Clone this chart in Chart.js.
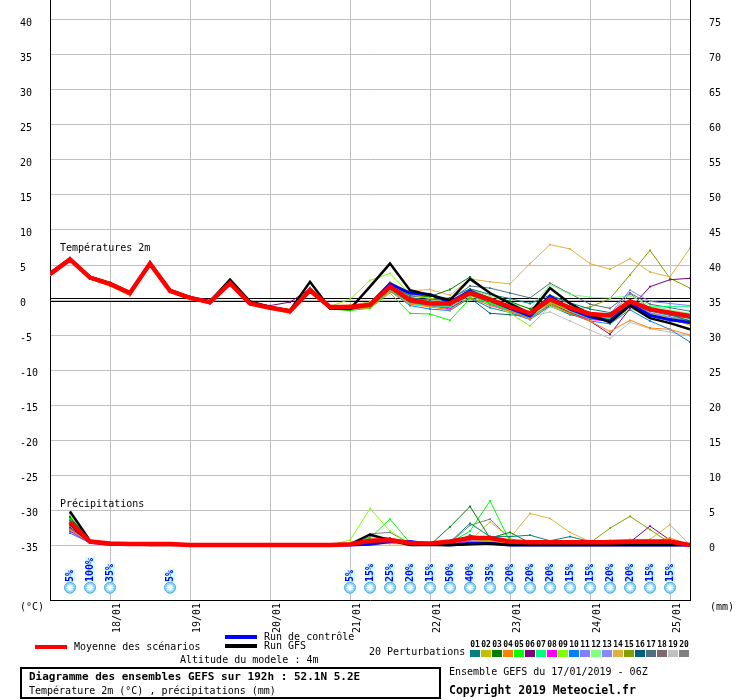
<!DOCTYPE html>
<html>
<head>
<meta charset="utf-8">
<title>Diagramme des ensembles GEFS - 52.1N 5.2E</title>
<script src="https://cdn.jsdelivr.net/npm/chart.js@4.4.1/dist/chart.umd.min.js"></script>
<style>
    html, body { margin: 0; padding: 0; background: #fff; }
    #gefs { display: block; }
</style>
</head>
<body>
<canvas id="gefs" width="740" height="700"></canvas>
<script>
const MONO = "'DejaVu Sans Mono', 'Liberation Mono', monospace";

// run du 17/01/2019 06Z, echeances toutes les 6h
const leadHours = [0, 6, 12, 18, 24, 30, 36, 42, 48, 54, 60, 66, 72, 78, 84, 90, 96,
    102, 108, 114, 120, 126, 132, 138, 144, 150, 156, 162, 168, 174, 180, 186, 192];

// 00Z de chaque jour
const dayTicks = [18, 42, 66, 90, 114, 138, 162, 186];
const dayLabels = ['18/01', '19/01', '20/01', '21/01', '22/01', '23/01', '24/01', '25/01'];

const tempTicks = [-35, -30, -25, -20, -15, -10, -5, 0, 5, 10, 15, 20, 25, 30, 35, 40];
const precTicks = [0, 5, 10, 15, 20, 25, 30, 35, 40, 45, 50, 55, 60, 65, 70, 75];

// temperature 2m (degC)
const tempMean = [3.7, 5.8, 3.2, 2.3, 1.0, 5.2, 1.3, 0.3, -0.3, 2.4, -0.5, -1.1, -1.6, 1.4, -1.0, -1.0, -0.7,
    1.9, 0.0, -0.5, -0.5, 1.0, 0.1, -1.0, -1.9, 0.1, -1.1, -2.0, -2.2, -0.2, -1.3, -1.8, -2.3];
const tempControl = [3.7, 5.8, 3.2, 2.3, 1.0, 5.2, 1.3, 0.3, -0.3, 2.4, -0.4, -1.1, -1.6, 1.5, -1.1, -1.2, -0.6,
    2.3, 1.0, 0.8, -0.3, 1.3, 0.0, -1.2, -2.3, 0.5, -1.3, -2.4, -3.0, -0.5, -2.2, -2.8, -3.2];
const tempGFS = [3.8, 5.9, 3.3, 2.4, 1.1, 5.3, 1.4, 0.4, -0.2, 2.9, -0.2, -1.0, -1.5, 2.6, -1.2, -1.3, 1.9,
    5.2, 1.4, 0.7, 0.0, 3.0, 1.0, -0.5, -1.9, 1.7, -0.5, -2.1, -3.2, -0.8, -2.6, -3.3, -4.2];

const tempPert = [
    [3.9, 5.9, 3.1, 2.2, 1.1, 5.0, 1.2, 0.2, -0.2, 2.3, -0.6, -1.2, -1.7, 1.2, -1.1, -1.1, -0.9, 1.6, 0.3, 0.0, 0.3, 1.6, 0.8, 0.2, -0.5, 0.7, -0.4, -1.3, -1.8, -0.4, -1.6, -2.2, -2.6],
    [3.6, 5.7, 3.3, 2.4, 1.2, 5.1, 1.4, 0.4, -0.3, 2.2, -0.4, -1.0, -1.5, 1.5, -1.0, -0.9, -0.3, 2.6, 0.8, 0.2, -0.6, 0.8, -0.2, -1.2, -2.2, -0.4, -1.6, -2.3, -2.5, -0.6, -2.0, -2.7, -3.6],
    [3.8, 5.8, 3.0, 2.1, 0.9, 5.3, 1.2, 0.3, -0.4, 2.5, -0.5, -1.2, -1.6, 1.3, -1.2, -1.2, -0.4, 2.4, 0.6, 0.5, 1.5, 3.3, 0.9, -0.2, -1.3, 0.3, -1.0, -2.2, -2.4, -0.1, -1.4, -2.1, -3.0],
    [3.6, 5.6, 3.0, 2.0, 0.6, 4.9, 1.1, 0.1, -0.5, 2.1, -0.7, -1.3, -1.9, 1.0, -1.3, -1.3, -1.1, 1.2, -0.6, -1.0, -1.4, 0.4, -0.8, -1.6, -2.7, -0.6, -1.9, -3.0, -4.5, -2.9, -4.0, -4.2, -5.0],
    [3.7, 5.8, 3.2, 2.3, 1.1, 5.2, 1.3, 0.3, -0.3, 2.4, -0.6, -1.1, -1.6, 1.4, -1.3, -1.5, -1.2, 1.0, -1.9, -2.0, -2.9, 0.2, -0.4, -1.4, -2.4, -0.2, -1.5, -2.6, -2.8, -0.8, -2.2, -2.9, -3.4],
    [3.8, 5.9, 3.3, 2.3, 1.0, 5.2, 1.4, 0.4, -0.2, 2.5, -0.4, -0.8, -0.3, 1.6, -1.1, -1.1, -0.6, 2.0, 0.1, -0.4, -0.7, 0.8, -0.3, -1.3, -2.0, -0.4, -1.8, -3.0, -4.9, -1.2, 1.9, 2.9, 3.1],
    [3.7, 5.7, 3.1, 2.2, 1.0, 5.1, 1.2, 0.2, -0.4, 2.3, -0.6, -1.2, -1.7, 1.3, -1.2, -1.3, -1.0, 1.4, -0.5, -0.8, -1.0, 0.6, -0.5, -1.5, -2.5, -0.5, -1.7, -2.5, -2.7, -0.4, -1.0, -0.9, -0.9],
    [3.7, 5.8, 3.2, 2.3, 1.0, 5.2, 1.3, 0.2, -0.6, 2.3, -0.5, -1.1, -1.7, 1.3, -1.0, -1.1, -0.8, 1.8, -0.2, -0.7, -1.3, 0.9, -0.6, -1.6, -2.6, -0.6, -1.8, -2.8, -3.0, -0.9, -2.1, -2.8, -3.3],
    [3.6, 5.7, 3.1, 2.4, 1.2, 5.0, 1.2, 0.4, -0.1, 2.4, -0.4, -1.1, -1.6, 1.5, -0.9, 0.1, 2.8, 3.8, 0.8, 0.3, -0.3, 0.7, -0.5, -1.9, -3.7, -0.9, -1.9, -2.6, -2.9, -1.3, -2.0, -2.6, -3.1],
    [3.8, 5.9, 3.3, 2.2, 0.9, 5.1, 1.3, 0.3, -0.3, 2.2, -0.6, -1.2, -1.8, 1.1, -1.3, -1.4, -1.0, 1.3, -0.8, -1.3, -1.5, 0.3, -1.1, -1.8, -2.8, -0.9, -2.0, -3.0, -3.4, -1.4, -3.0, -4.2, -6.0],
    [3.7, 5.8, 3.3, 2.4, 1.1, 5.3, 1.4, 0.3, -0.3, 2.5, -0.4, -1.0, -1.5, 1.6, -1.0, -1.0, -0.5, 2.6, 0.6, 0.2, -0.4, 1.2, -0.1, -1.1, -2.1, 0.0, -1.2, -2.1, -2.0, 1.4, -0.2, -0.5, -0.8],
    [3.7, 5.8, 3.2, 2.3, 1.0, 5.2, 1.3, 0.3, -0.3, 2.4, -0.5, -1.1, -1.6, 1.4, -1.1, -1.0, -0.4, 2.1, 0.1, -0.2, -0.6, 1.5, 0.6, -0.4, -1.2, 2.2, 0.8, 0.4, 0.3, 0.6, -0.8, -1.4, -1.9],
    [3.6, 5.7, 3.1, 2.3, 1.0, 5.2, 1.2, 0.2, -0.4, 2.4, -0.5, -1.1, -1.6, 1.4, -1.0, -1.1, -0.8, 2.2, -0.1, -0.6, -0.9, 1.1, -0.2, -1.3, -2.2, 0.3, -1.0, -2.0, -2.5, 0.0, -1.8, -2.4, -2.9],
    [3.8, 5.8, 3.1, 2.2, 1.1, 5.1, 1.3, 0.4, -0.2, 2.6, -0.3, -1.0, -1.5, 1.5, -0.9, -0.7, -0.3, 1.6, 1.3, 1.5, 0.7, 3.0, 2.6, 2.3, 5.2, 7.9, 7.3, 5.2, 4.4, 5.9, 4.0, 3.3, 7.4],
    [3.7, 5.7, 3.2, 2.3, 1.0, 5.2, 1.3, 0.3, -0.3, 2.3, -0.5, -1.2, -1.7, 1.3, -1.1, -1.2, -0.8, 1.7, -0.1, -0.5, -0.6, 1.0, -0.2, -1.2, -2.0, -0.3, -1.4, -1.0, 0.2, 3.6, 7.1, 3.1, 1.7],
    [3.7, 5.8, 3.2, 2.3, 1.0, 5.2, 1.3, 0.3, -0.3, 2.4, -0.5, -1.1, -1.6, 1.4, -1.2, -1.3, -0.9, 1.5, -0.4, -0.8, -1.1, 0.3, -1.9, -2.1, -2.4, -0.8, -2.1, -2.6, -3.1, -0.6, -2.3, -3.0, -3.3],
    [3.9, 6.0, 3.4, 2.4, 1.1, 5.4, 1.5, 0.4, -0.2, 2.6, -0.3, -1.0, -1.4, 1.6, -1.0, -0.9, -0.5, 1.9, 0.7, 0.6, 0.0, 2.0, 1.7, 1.0, 0.3, 2.4, 0.9, -0.6, -1.2, 1.0, -0.6, -1.1, -1.6],
    [3.6, 5.7, 3.2, 2.3, 0.9, 5.1, 1.2, 0.2, -0.4, 2.3, -0.6, -1.2, -1.8, 1.2, -1.1, -1.1, -0.9, 1.7, -0.2, -0.6, -0.8, 0.8, -0.4, -1.5, -2.3, -0.2, -1.5, -2.4, -2.6, -0.1, -1.9, -2.5, -3.0],
    [3.8, 5.8, 3.2, 2.3, 1.0, 5.2, 1.3, 0.3, -0.3, 2.4, -0.5, -1.1, -1.6, 1.4, -1.1, -1.2, -0.9, 1.3, -0.5, -0.9, -1.2, 0.2, -0.7, -1.5, -2.4, -1.7, -3.0, -4.3, -5.5, -3.2, -4.1, -4.6, -5.1],
    [4.0, 6.1, 3.4, 2.5, 1.2, 5.5, 1.6, 0.5, -0.1, 2.7, -0.2, -0.9, -1.4, 1.8, -1.0, -1.1, -0.6, 2.5, 0.4, -0.2, -0.5, 1.6, 0.3, -0.9, -1.8, 0.7, -0.6, -1.8, -2.2, 0.9, -1.2, -2.0, -2.7]
];

// precipitations sur 6h (mm), pas de valeur a l'echeance 0
const precMean = [null, 3.3, 0.5, 0.2, 0.15, 0.15, 0.15, 0, 0, 0, 0, 0, 0, 0, 0, 0.1, 0.6,
    0.7, 0.3, 0.2, 0.5, 1.0, 1.0, 0.5, 0.4, 0.4, 0.4, 0.4, 0.4, 0.45, 0.5, 0.5, 0];
const precControl = [null, 3.0, 0.4, 0.1, 0.1, 0.1, 0.1, 0, 0, 0, 0, 0, 0, 0, 0, 0, 0.1,
    0.5, 0.5, 0.1, 0, 0.2, 0.2, 0, 0, 0, 0, 0, 0, 0, 0, 0, 0];
const precGFS = [null, 4.8, 0.6, 0.2, 0.1, 0, 0, 0, 0, 0, 0, 0, 0, 0, 0, 0.1, 1.5,
    0.7, 0, 0, 0, 0.1, 0.2, 0, 0, 0, 0, 0, 0, 0, 0, 0, 0];

const precPert = [
    [null, 3.5, 0.5, 0.2, 0.1, 0, 0, 0, 0, 0, 0, 0, 0, 0, 0, 0, 0.3, 0.5, 0.1, 0, 0.4, 3.1, 1.2, 1.2, 1.4, 0.6, 1.2, 0.5, 0, 0, 0, 0, 0],
    [null, 2.8, 0.4, 0.2, 0.1, 0.1, 0, 0, 0, 0, 0, 0, 0, 0, 0, 0, 0.2, 0.6, 0.2, 0, 0.2, 0.8, 0.6, 0.2, 0.1, 0.2, 0.3, 0.2, 0.4, 0.6, 0.5, 0.3, 0],
    [null, 4.0, 0.6, 0.3, 0.2, 0.1, 0.1, 0, 0, 0, 0, 0, 0, 0, 0, 0, 0.4, 0.9, 0.2, 0, 2.6, 5.5, 1.0, 1.8, 0.3, 0.2, 0.1, 0, 0, 0, 0, 0, 0],
    [null, 2.2, 0.3, 0.1, 0, 0, 0, 0, 0, 0, 0, 0, 0, 0, 0, 0, 0.1, 0.3, 0.1, 0, 0.1, 0.4, 0.5, 0.2, 0.3, 0.2, 0.1, 0.1, 0.2, 0.3, 0.4, 1.0, 0],
    [null, 3.8, 0.5, 0.2, 0.1, 0.1, 0.1, 0, 0, 0, 0, 0, 0, 0, 0, 0.1, 1.0, 3.7, 0.3, 0, 0.3, 2.0, 6.3, 0.5, 0.1, 0, 0, 0, 0, 0, 0, 0, 0],
    [null, 2.5, 0.4, 0.2, 0.1, 0, 0, 0, 0, 0, 0, 0, 0, 0, 0, 0, 0.2, 0.4, 0.1, 0, 0.1, 0.3, 0.2, 0.1, 0.2, 0.1, 0.2, 0.1, 0.1, 0.4, 2.7, 0.7, 0],
    [null, 3.0, 0.5, 0.2, 0.1, 0, 0, 0, 0, 0, 0, 0, 0, 0, 0, 0, 0.3, 0.7, 0.2, 0, 0.2, 0.9, 0.8, 0.3, 0.1, 0.1, 0.1, 0, 0, 0, 0, 0, 0],
    [null, 2.0, 0.3, 0.1, 0, 0, 0, 0, 0, 0, 0, 0, 0, 0, 0, 0, 0.2, 0.4, 0.1, 0, 0.1, 0.5, 0.4, 0.1, 0, 0, 0, 0, 0, 0, 0, 0, 0],
    [null, 4.2, 0.6, 0.3, 0.2, 0.1, 0.1, 0, 0, 0, 0, 0, 0, 0, 0, 0.7, 5.2, 2.0, 0.2, 0, 0.2, 1.2, 0.5, 0.2, 0, 0, 0, 0, 0, 0, 0, 0, 0],
    [null, 1.7, 0.3, 0.1, 0, 0, 0, 0, 0, 0, 0, 0, 0, 0, 0, 0, 0.1, 0.3, 0.2, 0, 0.1, 0.3, 0.2, 0.1, 0, 0, 0, 0, 0, 0.1, 0.1, 0, 0],
    [null, 3.2, 0.5, 0.2, 0.1, 0.1, 0, 0, 0, 0, 0, 0, 0, 0, 0, 0, 0.3, 0.6, 0.2, 0, 0.2, 0.5, 0.7, 0.2, 0.1, 0.1, 0, 0, 0, 0.3, 0.3, 0.2, 0],
    [null, 2.6, 0.4, 0.2, 0.1, 0, 0, 0, 0, 0, 0, 0, 0, 0, 0, 0, 0.2, 0.5, 0.1, 0, 0.3, 1.0, 1.3, 0.3, 0.1, 0.1, 0, 0, 0, 0, 0, 0, 0],
    [null, 1.9, 0.3, 0.1, 0.1, 0, 0, 0, 0, 0, 0, 0, 0, 0, 0, 0, 0.2, 0.4, 0.2, 0, 0.2, 0.6, 0.4, 0.1, 0.1, 0, 0, 0, 0, 0.2, 0.2, 0, 0],
    [null, 3.6, 0.5, 0.2, 0.1, 0.1, 0, 0, 0, 0, 0, 0, 0, 0, 0, 0, 0.1, 0.2, 0.1, 0, 0.2, 0.6, 3.3, 1.0, 4.5, 3.8, 1.8, 0.5, 0.7, 0.8, 0.8, 2.9, 0],
    [null, 2.4, 0.4, 0.2, 0.1, 0, 0, 0, 0, 0, 0, 0, 0, 0, 0, 0, 0.2, 0.3, 0.1, 0, 0.1, 0.2, 0.1, 0.1, 0.1, 0.1, 0.1, 0.3, 2.4, 4.1, 2.2, 0.3, 0],
    [null, 2.9, 0.4, 0.2, 0.1, 0.1, 0, 0, 0, 0, 0, 0, 0, 0, 0, 0, 0.3, 0.5, 0.1, 0, 0.2, 1.4, 0.8, 0.2, 0.1, 0.1, 0, 0, 0, 0, 0, 0, 0],
    [null, 3.9, 0.6, 0.3, 0.1, 0.1, 0, 0, 0, 0, 0, 0, 0, 0, 0, 0, 1.2, 1.0, 0.2, 0, 0.3, 0.9, 0.6, 0.4, 0.2, 0.1, 0.1, 0, 0, 0, 0, 0, 0],
    [null, 2.3, 0.4, 0.1, 0.1, 0, 0, 0, 0, 0, 0, 0, 0, 0, 0, 0, 0.2, 0.4, 0.1, 0, 0.1, 0.4, 0.3, 0.1, 0, 0, 0, 0, 0, 0, 0, 0, 0],
    [null, 2.1, 0.3, 0.1, 0, 0, 0, 0, 0, 0, 0, 0, 0, 0, 0, 0, 0.1, 0.3, 0.1, 0, 0.1, 0.3, 0.2, 0.1, 0, 0, 0, 0, 0, 0, 0, 0, 0],
    [null, 4.5, 0.6, 0.3, 0.1, 0.1, 0.1, 0, 0, 0, 0, 0, 0, 0, 0, 0, 1.6, 1.8, 0.2, 0, 0.3, 2.8, 3.7, 0.9, 0.2, 0.1, 0, 0, 0, 0, 0, 0, 0]
];

const pertNames = ['01', '02', '03', '04', '05', '06', '07', '08', '09', '10',
    '11', '12', '13', '14', '15', '16', '17', '18', '19', '20'];
const pertColors = ['#008080', '#c0c000', '#008000', '#ff8000', '#00ff00', '#800080', '#00ff80', '#ff00ff', '#80ff00', '#0080ff',
    '#8080ff', '#80ff80', '#8888ff', '#e0b040', '#80a000', '#006080', '#507080', '#806870', '#c0c0c0', '#808080'];

// probabilite de neige (%)
const snowHours = [6, 12, 18, 36, 90, 96, 102, 108, 114, 120, 126, 132, 138, 144, 150, 156, 162, 168, 174, 180, 186];
const snowPct = [5, 100, 35, 5, 5, 15, 25, 20, 15, 50, 40, 35, 20, 20, 20, 15, 15, 20, 20, 15, 15];

const SNOW_ROW = -41.1; // ligne des flocons, sous la zone des precipitations

function series(values) {
    return values.map((v, i) => ({ x: leadHours[i], y: v }));
}

function pertLine(values, color, axis) {
    return {
        data: series(values),
        yAxisID: axis,
        borderColor: color,
        backgroundColor: color,
        borderWidth: 1,
        pointRadius: 1.3,
        pointStyle: 'rect',
        pointBorderWidth: 0,
        order: 3,
    };
}

function mainLine(values, color, width, axis, order) {
    return {
        data: series(values),
        yAxisID: axis,
        borderColor: color,
        borderWidth: width,
        pointRadius: 0,
        order: order,
    };
}

const datasets = [];
tempPert.forEach((vals, k) => datasets.push(pertLine(vals, pertColors[k], 'y')));
precPert.forEach((vals, k) => datasets.push(pertLine(vals, pertColors[k], 'y2')));
datasets.push(mainLine(tempControl, '#0000ff', 3, 'y', 2));
datasets.push(mainLine(precControl, '#0000ff', 3, 'y2', 2));
datasets.push(mainLine(tempGFS, '#000000', 2.5, 'y', 1));
datasets.push(mainLine(precGFS, '#000000', 2.5, 'y2', 1));
datasets.push(mainLine(tempMean, '#ff0000', 4.5, 'y', 0));
datasets.push(mainLine(precMean, '#ff0000', 4.5, 'y2', 0));

const snowIndex = datasets.length;
datasets.push({
    data: snowHours.map(h => ({ x: h, y: SNOW_ROW })),
    yAxisID: 'y',
    showLine: false,
    pointRadius: 5.5,
    pointStyle: 'circle',
    backgroundColor: '#8ed6fa',
    borderColor: '#4aa8e0',
    borderWidth: 1,
    order: -1,
});
datasets.push({
    data: snowHours.map(h => ({ x: h, y: SNOW_ROW })),
    yAxisID: 'y',
    showLine: false,
    pointRadius: 3.5,
    pointStyle: 'star',
    borderColor: '#ffffff',
    borderWidth: 1.2,
    order: -2,
});

// double trait noir a 0 degC
const zeroLine = {
    id: 'zeroLine',
    beforeDatasetsDraw(chart) {
        const { ctx, chartArea, scales } = chart;
        const y0 = Math.round(scales.y.getPixelForValue(0));
        ctx.save();
        ctx.fillStyle = '#000';
        ctx.fillRect(chartArea.left, y0 - 2, chartArea.width, 1);
        ctx.fillRect(chartArea.left, y0 + 1, chartArea.width, 1);
        ctx.restore();
    }
};

// pourcentages de neige au-dessus des flocons
const snowLabels = {
    id: 'snowLabels',
    afterDatasetsDraw(chart) {
        const ctx = chart.ctx;
        const meta = chart.getDatasetMeta(snowIndex);
        ctx.save();
        ctx.font = 'bold 10px ' + MONO;
        meta.data.forEach((pt, k) => {
            const txt = snowPct[k] + '%';
            const w = ctx.measureText(txt).width;
            const x = Math.round(pt.x);
            const yb = Math.round(pt.y) - 6;
            ctx.fillStyle = '#ccffff';
            ctx.fillRect(x - 5, yb - w - 1, 10, w + 1);
            ctx.save();
            ctx.translate(x + 0.5, yb);
            ctx.rotate(-Math.PI / 2);
            ctx.fillStyle = '#0000ff';
            ctx.textAlign = 'left';
            ctx.textBaseline = 'middle';
            ctx.fillText(txt, 0, 0);
            ctx.restore();
        });
        ctx.restore();
    }
};

// textes, legende et cartouche
const decorations = {
    id: 'decorations',
    afterDraw(chart) {
        const ctx = chart.ctx;
        ctx.save();
        ctx.textBaseline = 'middle';
        ctx.textAlign = 'left';
        ctx.fillStyle = '#000';
        ctx.font = '10px ' + MONO;
        ctx.fillText('Températures 2m', 60, 248);
        ctx.fillText('Précipitations', 60, 504);
        ctx.fillText('(°C)', 20, 607);
        ctx.fillText('(mm)', 710, 607);

        // legende
        ctx.fillStyle = '#ff0000';
        ctx.fillRect(35, 645, 32, 4);
        ctx.fillStyle = '#0000ff';
        ctx.fillRect(225, 635, 32, 4);
        ctx.fillStyle = '#000000';
        ctx.fillRect(225, 644, 32, 4);
        ctx.fillText('Moyenne des scénarios', 74, 647);
        ctx.fillText('Run de contrôle', 264, 637);
        ctx.fillText('Run GFS', 264, 646.5);
        ctx.fillText('Altitude du modele : 4m', 180, 660);
        ctx.fillText('20 Perturbations', 369, 652.5);

        ctx.textAlign = 'center';
        ctx.font = 'bold 8px ' + MONO;
        pertColors.forEach((c, k) => {
            const x = 470 + k * 11;
            ctx.fillStyle = c;
            ctx.fillRect(x, 650, 10, 7);
            ctx.fillStyle = '#000';
            ctx.fillText(pertNames[k], x + 5, 644.5);
        });

        // cartouche
        ctx.strokeStyle = '#000';
        ctx.lineWidth = 2;
        ctx.strokeRect(21, 668, 419, 30);
        ctx.textAlign = 'left';
        ctx.fillStyle = '#000';
        ctx.font = 'bold 11px ' + MONO;
        ctx.fillText('Diagramme des ensembles GEFS sur 192h : 52.1N 5.2E', 29, 677);
        ctx.font = '10px ' + MONO;
        ctx.fillText('Température 2m (°C) , précipitations (mm)', 29, 691.5);
        ctx.fillText('Ensemble GEFS du 17/01/2019 - 06Z', 449, 672.5);
        ctx.font = 'bold 11.5px ' + MONO;
        ctx.fillText('Copyright 2019 Meteociel.fr', 449, 691.5);
        ctx.restore();
    }
};

const ctx = document.getElementById('gefs');
window.gefs_chart = new Chart(ctx, {
    type: 'line',
    data: { datasets: datasets },
    plugins: [zeroLine, snowLabels, decorations],
    options: {
        responsive: false,
        animation: false,
        events: [],
        layout: { autoPadding: false, padding: { left: 20, right: 0, top: 0, bottom: 0 } },
        elements: { line: { tension: 0 } },
        plugins: {
            legend: { display: false },
            tooltip: { enabled: false },
        },
        scales: {
            x: {
                type: 'linear',
                min: 0,
                max: 192,
                afterBuildTicks: (s) => { s.ticks = dayTicks.map(v => ({ value: v })); },
                afterFit: (s) => { s.height = 100; s.paddingLeft = 0; s.paddingRight = 0; },
                grid: { color: '#c0c0c0', lineWidth: 1, drawTicks: false },
                border: { color: '#000', width: 1 },
                ticks: {
                    autoSkip: false,
                    minRotation: 90,
                    maxRotation: 90,
                    padding: 3,
                    labelOffset: 7,
                    color: '#000',
                    font: { family: MONO, size: 10 },
                    callback: (v) => dayLabels[dayTicks.indexOf(v)],
                },
            },
            y: {
                position: 'left',
                min: -300 / 7,
                max: 300 / 7,
                afterBuildTicks: (s) => { s.ticks = tempTicks.map(v => ({ value: v })); },
                afterFit: (s) => { s.width = 30; s.paddingTop = 0; s.paddingBottom = 0; },
                grid: { color: '#c0c0c0', lineWidth: 1, drawTicks: false },
                border: { color: '#000', width: 1 },
                ticks: {
                    crossAlign: 'far',
                    labelOffset: 3,
                    color: '#000',
                    font: { family: MONO, size: 10 },
                    callback: (v) => String(v),
                },
            },
            y2: {
                position: 'right',
                min: -300 / 7 + 35,
                max: 300 / 7 + 35,
                afterBuildTicks: (s) => { s.ticks = precTicks.map(v => ({ value: v })); },
                afterFit: (s) => { s.width = 50; s.paddingTop = 0; s.paddingBottom = 0; },
                grid: { drawOnChartArea: false, drawTicks: false },
                border: { color: '#000', width: 1 },
                ticks: {
                    padding: 19,
                    labelOffset: 3,
                    color: '#000',
                    font: { family: MONO, size: 10 },
                    callback: (v) => String(v),
                },
            },
        },
    },
});
</script>
</body>
</html>
